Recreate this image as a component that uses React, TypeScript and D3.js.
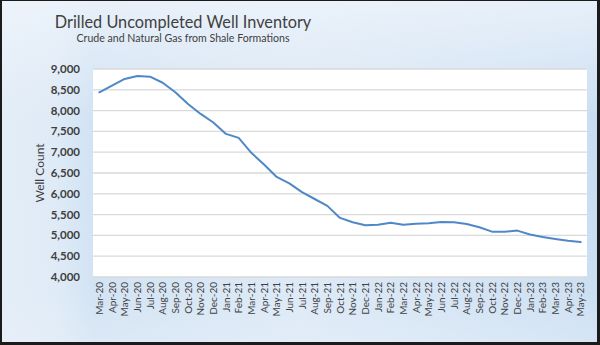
import React from "react";
import * as d3 from "d3";

const months: string[] = [
  "Mar-20","Apr-20","May-20","Jun-20","Jul-20","Aug-20","Sep-20","Oct-20","Nov-20","Dec-20",
  "Jan-21","Feb-21","Mar-21","Apr-21","May-21","Jun-21","Jul-21","Aug-21","Sep-21","Oct-21","Nov-21","Dec-21",
  "Jan-22","Feb-22","Mar-22","Apr-22","May-22","Jun-22","Jul-22","Aug-22","Sep-22","Oct-22","Nov-22","Dec-22",
  "Jan-23","Feb-23","Mar-23","Apr-23","May-23",
];

const wellCount: number[] = [
  8440, 8600, 8760, 8830, 8815, 8670, 8440, 8160, 7920, 7715,
  7440, 7345, 6985, 6705, 6405, 6250, 6040, 5875, 5710, 5420, 5315, 5245,
  5255, 5305, 5255, 5280, 5290, 5320, 5315, 5275, 5195, 5090, 5090, 5115,
  5020, 4960, 4915, 4870, 4840,
];

const yTicks: number[] = [4000, 4500, 5000, 5500, 6000, 6500, 7000, 7500, 8000, 8500, 9000];

const title = "Drilled Uncompleted Well Inventory";
const subtitle = "Crude and Natural Gas from Shale Formations";
const yLabel = "Well Count";

export default function App() {
  const W = 600, H = 345;
  const plot = { left: 93, right: 587, top: 69, bottom: 277 };
  const x = d3.scaleBand<string>().domain(months).range([plot.left, plot.right]).padding(0);
  const y = d3.scaleLinear().domain([4000, 9000]).range([plot.bottom, plot.top]);
  const fmt = d3.format(",");
  const line = d3
    .line<number>()
    .x((_, i) => (x(months[i]) as number) + x.bandwidth() / 2)
    .y((d) => y(d));
  const font = "Lato, 'Open Sans', sans-serif";

  return (
    <svg width={W} height={H} style={{ position: "absolute", left: 0, top: 0 }} fontFamily={font}>
      <defs>
        <linearGradient id="bgH" x1="0" y1="0" x2="1" y2="0">
          <stop offset="0" stopColor="#dfeaf6" />
          <stop offset="0.09" stopColor="#d9e7f5" />
          <stop offset="0.155" stopColor="#c7dcf0" />
          <stop offset="0.5" stopColor="#d6e5f4" />
          <stop offset="0.975" stopColor="#c0d8ef" />
          <stop offset="1" stopColor="#bcd5ee" />
        </linearGradient>
        <linearGradient id="bgV" x1="0" y1="0" x2="0" y2="1">
          <stop offset="0" stopColor="#eef4fb" stopOpacity="0.85" />
          <stop offset="0.35" stopColor="#eef4fb" stopOpacity="0.25" />
          <stop offset="0.85" stopColor="#eef4fb" stopOpacity="0.3" />
          <stop offset="1" stopColor="#eef4fb" stopOpacity="0.5" />
        </linearGradient>
      </defs>
      <rect x={0} y={0} width={W} height={H} fill="#1b1b1b" />
      <rect x={2} y={1} width={595} height={341} fill="url(#bgH)" />
      <rect x={2} y={1} width={595} height={341} fill="url(#bgV)" />

      <text x={183} y={28} textAnchor="middle" fontSize={16.3} fill="#404040">{title}</text>
      <text x={183} y={42} textAnchor="middle" fontSize={10.6} fill="#404040">{subtitle}</text>

      <rect x={plot.left} y={plot.top} width={plot.right - plot.left} height={plot.bottom - plot.top} fill="#ffffff" />
      {yTicks.map((t) => (
        <line key={"g" + t} x1={plot.left} x2={plot.right} y1={y(t)} y2={y(t)} stroke="#d9d9d9" strokeWidth={1.3} />
      ))}
      {yTicks.map((t) => (
        <text key={"t" + t} x={80} y={y(t)} dy="0.35em" textAnchor="end" fontSize={11.5} fontWeight={700} fill="#404040">
          {fmt(t)}
        </text>
      ))}
      <text transform={`translate(44,${(plot.top + plot.bottom) / 2}) rotate(-90)`} textAnchor="middle" fontSize={12} fill="#404040">
        {yLabel}
      </text>
      {months.map((m) => (
        <text
          key={m}
          transform={`translate(${(x(m) as number) + x.bandwidth() / 2},282) rotate(-90)`}
          textAnchor="end"
          dy="0.35em"
          fontSize={10}
          fill="#404040"
        >
          {m}
        </text>
      ))}
      <path d={line(wellCount) || ""} fill="none" stroke="#4f88c6" strokeWidth={2} strokeLinejoin="round" strokeLinecap="round" />
    </svg>
  );
}
